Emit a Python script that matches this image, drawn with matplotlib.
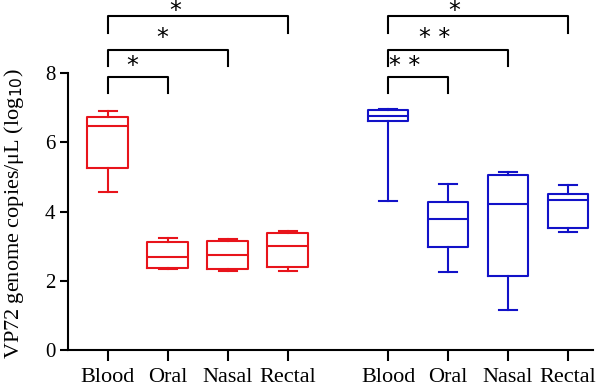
import matplotlib
matplotlib.use("Agg")
import matplotlib.pyplot as plt

plt.rcParams["font.family"] = ["Liberation Serif", "DejaVu Serif"]

# --- data (log10 copies/uL) ---
sites = ["Blood", "Oral", "Nasal", "Rectal"]
pos_red = [1, 2, 3, 4]
pos_blue = [5.67, 6.67, 7.67, 8.67]

red_whislo = [4.57, 2.33, 2.28, 2.28]
red_q1 = [5.26, 2.37, 2.34, 2.41]
red_med = [6.47, 2.69, 2.76, 3.01]
red_q3 = [6.73, 3.13, 3.14, 3.37]
red_whishi = [6.91, 3.25, 3.21, 3.44]

blue_whislo = [4.31, 2.26, 1.16, 3.42]
blue_q1 = [6.61, 2.97, 2.15, 3.53]
blue_med = [6.78, 3.80, 4.23, 4.33]
blue_q3 = [6.94, 4.28, 5.07, 4.52]
blue_whishi = [6.97, 4.80, 5.15, 4.77]

# significance brackets: (from index, to index, label)
red_sig = [(0, 1, "*"), (0, 2, "*"), (0, 3, "*")]
blue_sig = [(0, 1, "**"), (0, 2, "**"), (0, 3, "*")]

RED = "#e8141b"
BLUE = "#1212c8"


def stats(lo, q1, med, q3, hi):
    return [dict(whislo=a, q1=b, med=c, q3=d, whishi=e, fliers=[])
            for a, b, c, d, e in zip(lo, q1, med, q3, hi)]


fig = plt.figure(figsize=(6, 3.87), dpi=100)
ax = fig.add_axes([0.113, 0.0956, 0.875, 0.9044])

for st, pos, col in [
    (stats(red_whislo, red_q1, red_med, red_q3, red_whishi), pos_red, RED),
    (stats(blue_whislo, blue_q1, blue_med, blue_q3, blue_whishi), pos_blue, BLUE),
]:
    lp = dict(color=col, linewidth=1.5)
    ax.bxp(st, positions=pos, widths=0.68, capwidths=0.3, showfliers=False,
           boxprops=lp, medianprops=lp, whiskerprops=lp, capprops=lp,
           manage_ticks=False)

# brackets: leg bottom, bar height, star centre
heights = [(7.43, 7.89, 8.37), (8.2, 8.67, 9.19), (9.16, 9.65, 9.95)]
star_x_red = [1.4, 1.9, 2.13]
star_x_blue = [5.95, 6.45, 6.78]
for sig, pos, sx in [(red_sig, pos_red, star_x_red), (blue_sig, pos_blue, star_x_blue)]:
    for (i, j, lab), (lo, hi, sy), x in zip(sig, heights, sx):
        ax.plot([pos[i], pos[i], pos[j], pos[j]], [lo, hi, hi, lo],
                color="black", linewidth=1.5, clip_on=False)
        ax.text(x, sy - 0.36, " ".join(lab), ha="center", va="baseline",
                fontsize=17, family="DejaVu Sans", clip_on=False)

ax.set_xlim(0.333, 9.083)
ax.set_ylim(0, 10.12)
ax.set_xticks(pos_red + pos_blue)
ax.set_xticklabels(sites + sites, fontsize=16)
ax.set_yticks([0, 2, 4, 6, 8])
ax.tick_params(axis="y", labelsize=15, length=6, width=1.5, pad=3)
ax.tick_params(axis="x", length=8, width=1.5, pad=5)
ax.spines["top"].set_visible(False)
ax.spines["right"].set_visible(False)
ax.spines["left"].set_bounds(0, 8)
ax.spines["left"].set_linewidth(1.5)
ax.spines["bottom"].set_linewidth(1.5)
ax.set_ylabel(r"VP72 genome copies/μL (log$_{10}$)", fontsize=16)
ax.yaxis.set_label_coords(-0.08, 0.39)
ax.patch.set_visible(False)

fig.savefig("out.png", dpi=100)
